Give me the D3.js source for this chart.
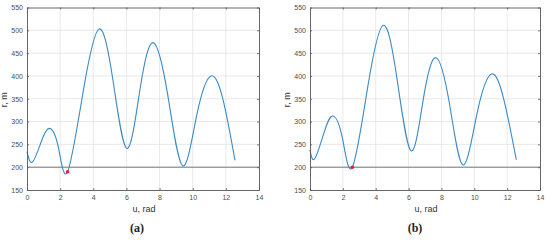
<!DOCTYPE html>
<html>
<head>
<meta charset="utf-8">
<style>
  body { margin: 0; background: #fff; }
  svg { display: block; font-family: "Liberation Sans", Arial, sans-serif; }
  .grid line { stroke: #e3e3e3; stroke-width: 0.8; }
  .tick-label { font-size: 7px; fill: #4d4d4d; }
  .axis-title { font-size: 9px; fill: #333; }
  .caption { font-family: "Liberation Serif", "Times New Roman", serif; font-size: 12px; font-weight: bold; fill: #222; }
</style>
</head>
<body>
<script src="https://cdn.jsdelivr.net/npm/d3@7"></script>
<script>
// values (turning points plus one point on each branch)
let xTicks = [0, 2, 4, 6, 8, 10, 12, 14]
let yTicks = [150, 200, 250, 300, 350, 400, 450, 500, 550]
let limitR = 200

let uA = [0, 0.32, 0.83, 1.33, 1.89, 2.45, 3.4, 4.35, 5.19, 6.03,
          6.83, 7.62, 8.5, 9.39, 10.25, 11.1, 11.85, 12.55]
let rA = [234, 211, 253, 285, 244, 190, 368, 503, 390, 241,
          373, 473, 357, 203, 315, 400, 345, 215]
let markerA = [2.45, 190]

let uB = [0, 0.28, 0.82, 1.36, 1.97, 2.58, 3.52, 4.46, 5.3, 6.15,
          6.91, 7.67, 8.49, 9.31, 10.17, 11.04, 11.8, 12.56]
let rB = [238, 218, 272, 312, 264, 200, 377, 511, 393, 236,
          352, 440, 339, 205, 318, 404, 348, 216]
let markerB = [2.58, 200]

let width = 550
let height = 240

let svg = d3.select("body").append("svg")
    .attr("width", width)
    .attr("height", height)

function panel(box, u, r, marker, caption) {
    let x = d3.scaleLinear().domain([0, 14]).range([box.left, box.right])
    let y = d3.scaleLinear().domain([150, 550]).range([box.bottom, box.top])
    let g = svg.append("g")

    // grid
    let grid = g.append("g").attr("class", "grid")
    grid.selectAll(".gx").data(xTicks.slice(1, -1)).join("line")
        .attr("x1", d => x(d)).attr("x2", d => x(d))
        .attr("y1", box.top).attr("y2", box.bottom)
    grid.selectAll(".gy").data(yTicks.slice(1, -1)).join("line")
        .attr("y1", d => y(d)).attr("y2", d => y(d))
        .attr("x1", box.left).attr("x2", box.right)

    // 200 m line
    g.append("line")
        .attr("x1", box.left).attr("x2", box.right)
        .attr("y1", y(limitR)).attr("y2", y(limitR))
        .attr("stroke", "#6b6b6b").attr("stroke-width", 0.9)

    // curve
    let line = d3.line()
        .x((d, i) => x(u[i]))
        .y(d => y(d))
        .curve(d3.curveNatural)
    g.append("path")
        .attr("d", line(r))
        .attr("fill", "none")
        .attr("stroke", "#3a8ac6")
        .attr("stroke-width", 1.1)

    // axes box with inward ticks
    let axB = g.append("g").attr("transform", `translate(0,${box.bottom})`)
        .call(d3.axisBottom(x).tickValues(xTicks).tickSizeInner(-2).tickSizeOuter(0).tickPadding(5))
    let axL = g.append("g").attr("transform", `translate(${box.left},0)`)
        .call(d3.axisLeft(y).tickValues(yTicks).tickSizeInner(-2).tickSizeOuter(0).tickPadding(4))
    let axT = g.append("g").attr("transform", `translate(0,${box.top})`)
        .call(d3.axisTop(x).tickValues(xTicks).tickSizeInner(-2).tickSizeOuter(0).tickFormat(""))
    let axR = g.append("g").attr("transform", `translate(${box.right},0)`)
        .call(d3.axisRight(y).tickValues(yTicks).tickSizeInner(-2).tickSizeOuter(0).tickFormat(""))
    ;[axB, axL, axT, axR].forEach(a => {
        a.select(".domain").attr("stroke", "#555").attr("stroke-width", 0.9)
        a.selectAll(".tick line").attr("stroke", "#555").attr("stroke-width", 0.8)
        a.selectAll(".tick text").attr("class", "tick-label").attr("font-size", null).attr("fill", null)
    })

    // minimum marker
    g.append("circle")
        .attr("cx", x(marker[0])).attr("cy", y(marker[1]))
        .attr("r", 1.8)
        .attr("fill", "#e8202a")

    g.append("text").attr("class", "axis-title")
        .attr("x", (box.left + box.right) / 2 + 1).attr("y", box.bottom + 22)
        .attr("text-anchor", "middle")
        .text("u, rad")
    g.append("text").attr("class", "axis-title")
        .attr("transform", `translate(${box.left - 20},${(box.top + box.bottom) / 2 + 1}) rotate(-90)`)
        .attr("text-anchor", "middle")
        .text("r, m")
    g.append("text").attr("class", "caption")
        .attr("x", box.capX).attr("y", 232)
        .attr("text-anchor", "middle")
        .text(caption)
}

panel({left: 27, right: 259, top: 7.5, bottom: 190, capX: 137}, uA, rA, markerA, "(a)")
panel({left: 310, right: 540, top: 7.5, bottom: 190, capX: 415}, uB, rB, markerB, "(b)")
</script>
</body>
</html>
